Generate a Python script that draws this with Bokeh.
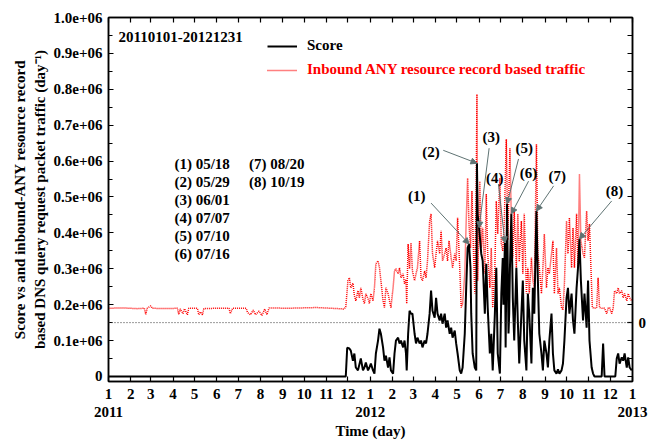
import numpy as np
import pandas as pd
from bokeh.plotting import figure
from bokeh.models import (Range1d, LinearAxis, FixedTicker, Legend, LegendItem,
                          Span, Label, Arrow, NormalHead)
from bokeh.embed import file_html
from bokeh.resources import INLINE

FONT = "Liberation Serif"
START = pd.Timestamp("2011-01-01")

# ---------------- data (day index from 2011-01-01) ----------------
score_day = [0, 331, 333, 336, 338, 341, 343, 345, 348, 352, 355, 357, 359, 362, 364, 366, 369, 371, 373,
             376, 378, 380, 383, 385, 387, 390, 392, 394, 397, 399, 401, 404, 406, 408, 411, 413, 415, 416,
             418, 420, 422, 424, 427, 429, 431, 434, 436, 438, 441, 443, 445, 448, 450, 452, 455, 457, 459,
             462, 464, 466, 469, 471, 473, 476, 478, 480, 483, 485, 487, 490, 492, 494, 497, 499, 501, 503,
             505, 506, 508, 511, 513, 514, 515, 517, 520, 522, 525, 527, 529, 532, 534, 536, 539, 541, 543,
             546, 548, 550, 551, 553, 554, 556, 558, 559, 560, 562, 564, 566, 569, 571, 573, 576, 578, 580,
             583, 585, 587, 590, 592, 594, 597, 599, 601, 604, 606, 608, 611, 613, 615, 618, 620, 622, 625,
             627, 629, 632, 634, 636, 639, 641, 643, 646, 648, 650, 653, 655, 657, 659, 662, 664, 667, 669,
             671, 674, 676, 678, 688, 690, 692, 707, 709, 711, 713, 716, 718, 720, 723, 725, 727, 730]
score_k = [0, 0, 80, 78, 72, 44, 64, 25, 17, 50, 17, 25, 39, 17, 25, 36, 17, 8, 64,
           100, 133, 119, 81, 44, 58, 25, 53, 17, 8, 64, 100, 108, 92, 100, 81, 100, 64, 17,
           119, 183, 175, 175, 119, 92, 108, 92, 100, 81, 100, 92, 119, 175, 239, 183, 164, 219, 175,
           156, 175, 147, 175, 136, 156, 119, 136, 108, 128, 92, 64, 17, 8, 25, 119, 247, 358, 369,
           303, 175, 64, 25, 17, 594, 450, 414, 342, 322, 175, 314, 192, 64, 119, 17, 175, 303, 64,
           8, 231, 330, 200, 372, 81, 481, 120, 175, 300, 453, 219, 100, 303, 156, 36, 175, 267, 100,
           17, 231, 175, 36, 247, 175, 461, 267, 119, 64, 17, 100, 64, 25, 100, 175, 64, 17, 8,
           20, 8, 17, 36, 100, 219, 247, 175, 231, 156, 119, 247, 303, 383, 267, 156, 231, 136, 267,
           100, 25, 8, 0, 0, 92, 0, 0, 50, 64, 36, 53, 44, 64, 25, 53, 25, 17]

traffic_day = [0, 20, 40, 50, 52, 54, 59, 61, 80, 96, 98, 100, 104, 106, 110, 112, 124, 126, 128, 131,
               133, 150, 168, 170, 173, 192, 194, 198, 202, 205, 210, 214, 218, 221, 224, 250, 290, 320,
               328, 331, 334, 336, 338, 341, 343, 345, 348, 350, 352, 355, 357, 359, 362, 364, 366, 369,
               371, 373, 376, 378, 380, 383, 385, 387, 390, 392, 394, 397, 399, 401, 404, 406, 408, 411,
               413, 415, 416, 418, 420, 422, 424, 427, 429, 431, 434, 436, 438, 441, 443, 445, 448, 450,
               452, 455, 457, 459, 462, 464, 466, 469, 471, 473, 475, 478, 480, 483, 485, 487, 490, 492,
               494, 497, 499, 501, 503, 505, 507, 509, 511, 513, 514, 515, 518, 520, 522, 525, 527, 529,
               532, 534, 536, 539, 541, 543, 546, 548, 550, 552, 555, 557, 560, 562, 564, 566, 569, 571,
               573, 576, 578, 580, 583, 585, 587, 590, 592, 594, 597, 599, 601, 604, 606, 608, 611, 613,
               615, 618, 620, 622, 625, 627, 629, 632, 634, 636, 639, 641, 643, 646, 648, 650, 653, 655,
               657, 659, 662, 664, 667, 669, 671, 673, 675, 678, 681, 683, 685, 688, 692, 695, 697, 699,
               702, 704, 706, 709, 711, 713, 716, 718, 720, 723, 725, 727, 730]
traffic_k = [190, 191, 189, 190, 173, 190, 197, 190, 189, 190, 173, 188, 175, 189, 172, 190, 190, 172, 180, 172,
             189, 190, 190, 175, 190, 190, 178, 172, 185, 172, 182, 170, 188, 172, 191, 190, 192, 189,
             188, 192, 267, 275, 247, 260, 225, 211, 239, 219, 247, 215, 203, 230, 217, 203, 231, 211,
             247, 314, 322, 303, 267, 211, 192, 247, 231, 211, 192, 247, 294, 300, 286, 303, 275, 286,
             258, 270, 203, 369, 300, 372, 294, 267, 286, 303, 378, 275, 267, 294, 275, 322, 433, 453,
             342, 303, 342, 378, 342, 406, 322, 342, 358, 322, 378, 331, 303, 342, 322, 442, 303, 192,
             203, 286, 433, 553, 420, 358, 517, 358, 231, 544, 786, 267, 544, 358, 414, 286, 508, 342,
             247, 358, 192, 303, 489, 397, 553, 370, 350, 420, 661, 380, 636, 433, 331, 461, 303, 453,
             320, 433, 286, 453, 231, 303, 231, 331, 267, 247, 647, 342, 303, 231, 303, 397, 247, 303,
             286, 342, 378, 231, 358, 231, 247, 192, 185, 258, 433, 342, 442, 303, 414, 303, 453, 303,
             564, 378, 342, 331, 461, 378, 425, 303, 192, 190, 192, 275, 192, 190, 190, 175, 190, 192,
             175, 190, 239, 231, 247, 231, 239, 219, 231, 211, 231, 219, 211]

event_ids = ["(1)", "(2)", "(3)", "(4)", "(5)", "(6)", "(7)", "(8)"]
event_dates = ["2012-05-18", "2012-05-29", "2012-06-01", "2012-07-07",
               "2012-07-10", "2012-07-16", "2012-08-20", "2012-10-19"]

month_labels = ["1", "2", "3", "4", "5", "6", "7", "8", "9", "10", "11", "12",
                "1", "2", "3", "4", "5", "6", "7", "8", "9", "10", "11", "12", "1"]
year_labels = ["2011", "2012", "2013"]
y_tick_labels = ["0", "0.1e+06", "0.2e+06", "0.3e+06", "0.4e+06", "0.5e+06",
                 "0.6e+06", "0.7e+06", "0.8e+06", "0.9e+06", "1.0e+06"]

# ---------------- derived ----------------
score_vals = [v * 1000 for v in score_k]
traffic_vals = [v * 1000 for v in traffic_k]
month_days = [(m - START).days for m in pd.date_range("2011-01-01", "2013-01-01", freq="MS")]
year_days = [(pd.Timestamp(y + "-01-01") - START).days for y in year_labels]
y_ticks = [i * 100000 for i in range(11)]
y_minor = [50000 + i * 100000 for i in range(10)]
event_days = [(pd.Timestamp(d) - START).days for d in event_dates]
event_vals = np.interp(event_days, score_day, score_vals)

p = figure(width=659, height=441, x_range=Range1d(0, 731), y_range=Range1d(-14000, 1000000),
           output_backend="svg", toolbar_location=None,
           x_axis_location=None, y_axis_location=None,
           min_border_left=108, min_border_right=27, min_border_top=17, min_border_bottom=60)
p.grid.visible = False
p.outline_line_color = "black"
p.outline_line_width = 1.5
p.background_fill_color = "white"
p.border_fill_color = "white"


def style_axis(ax, size="15px"):
    ax.axis_line_color = "black"
    ax.axis_line_width = 1.5
    ax.major_tick_line_color = "black"
    ax.major_tick_line_width = 1.2
    ax.minor_tick_line_color = "black"
    ax.major_tick_in = 5
    ax.major_tick_out = 0
    ax.minor_tick_in = 4
    ax.minor_tick_out = 0
    ax.major_label_text_font = FONT
    ax.major_label_text_font_style = "bold"
    ax.major_label_text_font_size = size
    ax.major_label_text_color = "black"
    ax.axis_label_text_font = FONT
    ax.axis_label_text_font_style = "bold"
    ax.axis_label_text_font_size = "15px"
    ax.axis_label_text_color = "black"


# left axis
ax_left = LinearAxis(ticker=FixedTicker(ticks=y_ticks, minor_ticks=y_minor),
                     major_label_overrides={t: l for t, l in zip(y_ticks, y_tick_labels)},
                     axis_label="Score vs and inbound-ANY resource record\nbased DNS query request packet traffic (day\u207b\u00b9)")
style_axis(ax_left)
ax_left.major_label_standoff = 6
ax_left.axis_label_standoff = 3
p.add_layout(ax_left, "left")

# right axis: zero of score offset
ax_right = LinearAxis(ticker=FixedTicker(ticks=[150000], minor_ticks=[i * 50000 for i in range(21)]),
                      major_label_overrides={150000: "0"})
style_axis(ax_right)
ax_right.minor_tick_in = 5
ax_right.major_label_standoff = 6
p.add_layout(ax_right, "right")

# top ticks
ax_top = LinearAxis(ticker=FixedTicker(ticks=month_days))
style_axis(ax_top, size="0px")
ax_top.major_label_standoff = 0
p.add_layout(ax_top, "above")

# bottom months
ax_month = LinearAxis(ticker=FixedTicker(ticks=month_days),
                      major_label_overrides={d: l for d, l in zip(month_days, month_labels)})
style_axis(ax_month)
ax_month.major_label_standoff = 7
p.add_layout(ax_month, "below")

# bottom years
ax_year = LinearAxis(ticker=FixedTicker(ticks=year_days),
                     major_label_overrides={d: l for d, l in zip(year_days, year_labels)},
                     axis_label="Time (day)")
style_axis(ax_year)
ax_year.axis_line_color = None
ax_year.major_tick_line_color = None
ax_year.major_label_standoff = 5
ax_year.axis_label_standoff = 3
p.add_layout(ax_year, "below")

# dotted zero line for right axis
p.add_layout(Span(location=150000, dimension="width", line_color="#333333",
                  line_dash="1 2", line_width=1))

r_traffic = p.line(traffic_day, traffic_vals, line_color="red", line_dash="1 1", line_width=1.5)
r_score = p.line(score_day, score_vals, line_color="black", line_width=2)

leg_kw = dict(label_text_font=FONT, label_text_font_style="bold", label_text_font_size="15px",
              glyph_width=30, glyph_height=16, label_height=16, label_standoff=10,
              padding=0, margin=0, border_line_alpha=0, background_fill_alpha=0)
p.add_layout(Legend(items=[LegendItem(label="Score", renderers=[r_score])],
                    location=(159, 327), label_text_color="black", **leg_kw))
p.add_layout(Legend(items=[LegendItem(label="Inbound ANY resource record based traffic",
                                      renderers=[r_traffic])],
                    location=(159, 303), label_text_color="red", **leg_kw))


def lab(x, y, text, align="left"):
    p.add_layout(Label(x=x, y=y, text=text, text_font=FONT, text_font_style="bold",
                       text_font_size="15px", text_align=align, text_baseline="middle",
                       text_color="black"))


lab(14, 947000, "20110101-20121231")

# event list
list_pos = [(92, 592000), (92, 542000), (92, 492000), (92, 442000), (92, 392000), (92, 342000),
            (196, 592000), (196, 542000)]
for (x, y), eid, ed in zip(list_pos, event_ids, event_dates):
    lab(x, y, f"{eid} {ed[5:7]}/{ed[8:10]}")

# arrows and labels
label_pos = [(430, 503000), (450, 625000), (534, 667000), (539, 553000),
             (580, 636000), (586, 567000), (626, 558000), (706, 517000)]
arrow_start = [(450, 483000), (467, 630000), (531, 636000), (544, 536000),
               (572, 606000), (586, 544000), (621, 531000), (702, 489000)]
AC = "#5f7373"
for (lx, ly), (sx, sy), ex, ey, eid in zip(label_pos, arrow_start, event_days, event_vals, event_ids):
    p.add_layout(Arrow(end=NormalHead(size=6, fill_color=AC, line_color=AC),
                       x_start=sx, y_start=sy, x_end=ex, y_end=ey,
                       line_color=AC, line_width=1))
    lab(lx, ly, eid, align="center")

open("out.html", "w").write(file_html(p, INLINE))
